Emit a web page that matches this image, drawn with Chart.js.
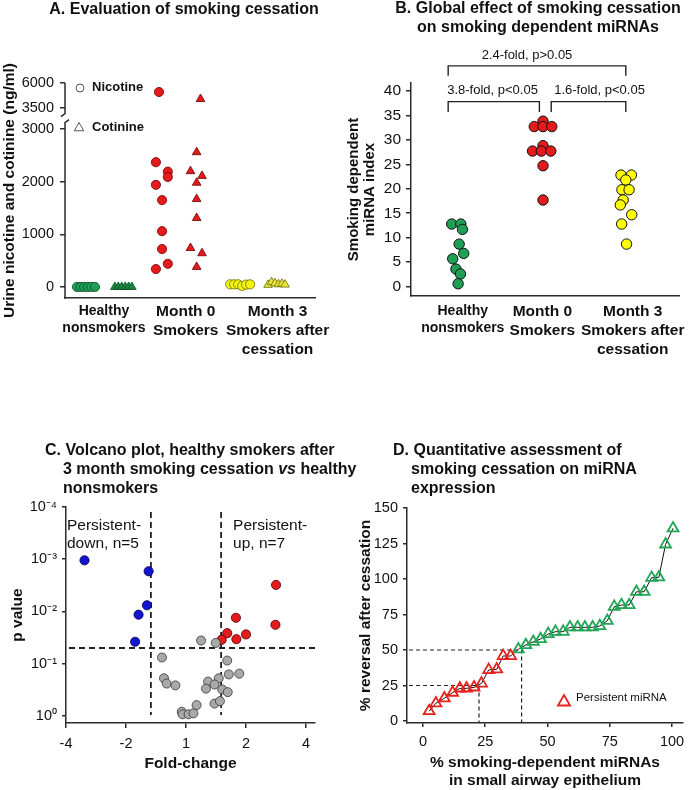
<!DOCTYPE html>
<html>
<head>
<meta charset="utf-8">
<title>Smoking cessation and miRNA</title>
<script src="https://cdn.jsdelivr.net/npm/chart.js@4.4.1/dist/chart.umd.min.js"></script>
<style>
  body { margin: 0; background: #fff; }
  #fig { position: relative; width: 692px; height: 790px; overflow: hidden; font-family: "Liberation Sans", Arial, sans-serif; color: #111; }
  #fig canvas { position: absolute; }
  .ttl { position: absolute; font-weight: bold; font-size: 16px; line-height: 19px; white-space: nowrap; }
  .ind { padding-left: 18px; }
</style>
</head>
<body>
<div id="fig">
  <canvas id="chartA" width="346" height="395" style="left:0;top:0"></canvas>
  <canvas id="chartB" width="346" height="395" style="left:346px;top:0"></canvas>
  <canvas id="chartC" width="346" height="395" style="left:0;top:395px"></canvas>
  <canvas id="chartD" width="346" height="395" style="left:346px;top:395px"></canvas>
  <div class="ttl" style="left:0;width:368px;top:-1px;text-align:center">A. Evaluation of smoking cessation</div>
  <div class="ttl" style="left:338px;width:400px;top:-2px;text-align:center">B. Global effect of smoking cessation<br>on smoking dependent miRNAs</div>
  <div class="ttl" style="left:45px;top:440px">C. Volcano plot, healthy smokers after<br><span class="ind">3 month smoking cessation <i>vs</i> healthy</span><br><span class="ind">nonsmokers</span></div>
  <div class="ttl" style="left:393px;top:440px">D. Quantitative assessment of<br><span class="ind">smoking cessation on miRNA</span><br><span class="ind">expression</span></div>
</div>
<script>
const FONT = '"Liberation Sans", Arial, sans-serif';
Chart.defaults.font.family = FONT;
Chart.defaults.color = '#111';
const AX = '#2b2b2b';

// groups shared by A and B
const groupLabels = [['Healthy', 'nonsmokers'], ['Month 0', 'Smokers'], ['Month 3', 'Smokers after', 'cessation']];

// A. urine nicotine / cotinine, ng/ml
const aTicks = [0, 1000, 2000, 3000, 3500, 6000];
const aNicotine = [
  [0, 0, 0, 0, 0, 0],
  [5100, 2370, 2190, 2090, 1940, 1650, 1060, 720, 440, 340],
  [50, 50, 50, 20, 45, 50]
];
const aCotinine = [
  [0, 0, 0, 0, 0, 0],
  [4400, 2560, 2200, 2110, 1980, 1670, 1310, 740, 640, 380],
  [40, 90, 70, 50, 60, 45]
];
// beeswarm spread around each group centre
const aNicJit = [
  [-0.357, -0.31, -0.264, -0.217, -0.17, -0.123],
  [-0.29, -0.33, -0.175, -0.175, -0.33, -0.25, -0.25, -0.25, -0.175, -0.33],
  [-0.364, -0.312, -0.26, -0.208, -0.156, -0.104]
];
const aCotJit = [
  [0.136, 0.18, 0.225, 0.27, 0.315, 0.357],
  [0.25, 0.2, 0.12, 0.27, 0.2, 0.2, 0.2, 0.12, 0.27, 0.2],
  [0.13, 0.175, 0.22, 0.265, 0.31, 0.35]
];

// B. smoking dependent miRNA index
const bTicks = [0, 5, 10, 15, 20, 25, 30, 35, 40];
const bIndex = [
  [12.8, 12.8, 11.7, 8.7, 6.8, 5.7, 3.6, 2.6, 0.6],
  [33.8, 32.7, 32.7, 32.7, 28.8, 27.7, 27.7, 27.7, 24.7, 17.7],
  [22.8, 22.8, 21.8, 19.8, 19.8, 17.7, 16.7, 14.7, 12.8, 8.7]
];
const bJit = [
  [-0.073, 0.035, 0.054, 0.015, 0.069, -0.061, -0.023, 0.031, 0.003],
  [0.008, -0.096, 0.008, 0.112, 0.008, -0.116, -0.012, 0.1, 0.008, 0.008],
  [-0.069, 0.054, -0.012, -0.058, 0.027, -0.043, -0.077, 0.058, -0.061, -0.003]
];
const bPairs = [[0, 1], [1, 2], [0, 2]];
const bPairText = ['3.8-fold, p<0.05', '1.6-fold, p<0.05', '2.4-fold, p>0.05'];

// C. volcano plot (signed fold-change, p value)
const cDownFC = [-3.23, -1.54, -1.57, -1.73, -1.80];
const cDownP = [0.00105, 0.0017, 0.0076, 0.0115, 0.038];
const cUpFC = [2.83, 1.78, 2.81, 1.61, 2.0, 1.51, 1.79];
const cUpP = [0.0031, 0.0132, 0.018, 0.026, 0.0275, 0.0347, 0.0339];
const cOtherFC = [1.19, 1.41, -1.32, 1.61, -1.29, -1.25, -1.13, 1.64, 1.85, 1.46, 1.29, 1.39, 1.26, 1.52, 1.62, 1.13, 1.39, 1.48, -1.05, -1.04, 1.03, 1.09];
const cOtherP = [0.036, 0.040, 0.076, 0.087, 0.19, 0.24, 0.26, 0.16, 0.155, 0.19, 0.22, 0.25, 0.30, 0.31, 0.35, 0.62, 0.58, 0.52, 0.83, 0.93, 0.93, 0.89];
const cTicksFC = [-4, -2, 1, 2, 4];
const cTicksExp = [-4, -3, -2, -1, 0];
const fcCut = 1.5, pCut = 0.05;

// D. % reversal vs % of smoking-dependent miRNAs
const dPersX = [2.5, 5.2, 8.6, 11.9, 14.8, 17.5, 20.5, 23.5, 26.4, 29.6, 32.2, 35.2];
const dPersY = [7, 12.5, 16, 20, 23, 23, 23.7, 26.5, 36, 36.4, 45.8, 45.8];
const dRevX = [38.3, 41.3, 44.3, 47.2, 50.3, 53.2, 56.3, 59, 62.1, 65, 68.1, 71, 74, 76.8, 79.7, 82.8, 85.7, 88.8, 91.8, 94.7, 97.4, 100.4];
const dRevY = [50.5, 53.5, 55.8, 57.7, 61.3, 62.9, 62.9, 66, 66, 66, 66, 66.9, 70.6, 80.5, 81.7, 81.7, 91, 91, 100.9, 101.2, 124.4, 135.7];
const dXTicks = [0, 25, 50, 75, 100];
const dYTicks = [0, 25, 50, 75, 100, 125, 150];
const dGuideX = [22.5, 39.6];
const dGuideY = [25, 50];

// broken axis in A: 0-3000 as is, 3500-6000 squeezed on top
const brk = v => v <= 3000 ? v : 3400 + (v - 3500) * 0.19;
const fcPos = f => Math.sign(f) * Math.log2(Math.abs(f));
const SUP = { '-': '\u207B', '0': '\u2070', '1': '\u00B9', '2': '\u00B2', '3': '\u00B3', '4': '\u2074' };
const sup = n => String(n).split('').map(c => SUP[c]).join('');

function tri(ctx, cx, cy, r) {
  ctx.beginPath();
  ctx.moveTo(cx, cy - r);
  ctx.lineTo(cx + r * 0.866, cy + r / 2);
  ctx.lineTo(cx - r * 0.866, cy + r / 2);
  ctx.closePath();
  ctx.stroke();
}

const base = {
  responsive: false, animation: false, events: [],
  plugins: { legend: { display: false }, tooltip: { enabled: false } }
};

// ---------- A ----------
const aFill = ['#1f9e55', '#e41a1c', '#f4f414'];
const aTriFill = ['#18883f', '#e41a1c', '#e8e83c'];
const aEdge = ['#0c4d25', '#6a0000', '#6b6b00'];
const dsA = [];
aNicotine.forEach((vals, g) => dsA.push({
  data: vals.map((v, i) => ({ x: g + 1 + aNicJit[g][i], y: brk(v) })),
  pointStyle: 'circle', pointRadius: 4.6, pointBackgroundColor: aFill[g], pointBorderColor: aEdge[g], pointBorderWidth: 0.8
}));
aCotinine.forEach((vals, g) => dsA.push({
  data: vals.map((v, i) => ({ x: g + 1 + aCotJit[g][i], y: brk(v) })),
  pointStyle: 'triangle', pointRadius: 5, pointBackgroundColor: aTriFill[g], pointBorderColor: aEdge[g], pointBorderWidth: 0.8
}));

const aDecor = {
  id: 'aDecor',
  afterDraw(chart) {
    const { ctx, chartArea: ca, scales: { y } } = chart;
    const x0 = ca.left;
    const mid = (y.getPixelForValue(brk(3000)) + y.getPixelForValue(brk(3500))) / 2;
    ctx.save();
    ctx.strokeStyle = AX; ctx.lineWidth = 1.5;
    ctx.beginPath();
    ctx.moveTo(x0, ca.top); ctx.lineTo(x0, mid - 5); ctx.lineTo(x0 - 4, mid - 2);
    ctx.moveTo(x0 + 4, mid + 1); ctx.lineTo(x0, mid + 4); ctx.lineTo(x0, ca.bottom + 0.75);
    ctx.stroke();
    ctx.lineWidth = 1; ctx.strokeStyle = '#555';
    ctx.beginPath(); ctx.arc(x0 + 15, ca.top + 5, 4, 0, Math.PI * 2); ctx.stroke();
    tri(ctx, x0 + 14, ca.top + 45, 5.5);
    ctx.fillStyle = '#111'; ctx.font = 'bold 13px ' + FONT; ctx.textBaseline = 'middle';
    ctx.fillText('Nicotine', x0 + 27, ca.top + 4);
    ctx.fillText('Cotinine', x0 + 27, ca.top + 44);
    ctx.restore();
  }
};

new Chart(document.getElementById('chartA'), {
  type: 'scatter',
  data: { datasets: dsA },
  options: {
    ...base,
    layout: { padding: { top: 83, right: 31, bottom: 0, left: 0 } },
    scales: {
      x: {
        min: 0.487, max: 3.74,
        afterBuildTicks: s => { s.ticks = [0.994, 2.058, 3.253].map(v => ({ value: v })); },
        afterFit: s => { s.height = 97; },
        grid: { display: false, drawTicks: false },
        border: { display: true, color: AX, width: 1.5 },
        ticks: {
          autoSkip: false, maxRotation: 0, padding: 4.5,
          callback: (v, i) => groupLabels[i],
          font: c => ({ size: c.index === 0 ? 14 : 15.5, weight: 'bold', lineHeight: c.index === 0 ? 1.2 : 1.22 })
        }
      },
      y: {
        min: -210, max: 3875,
        afterBuildTicks: s => { s.ticks = aTicks.map(v => ({ value: brk(v) })); },
        afterFit: s => { s.width = 65; },
        grid: { drawOnChartArea: false, tickLength: 5, color: AX, lineWidth: 1.5 },
        border: { display: false },
        ticks: { padding: 6, font: { size: 14.5 }, callback: (v, i) => String(aTicks[i]) },
        title: { display: true, text: 'Urine nicotine and cotinine (ng/ml)', font: { size: 15.5, weight: 'bold' }, padding: { top: 0, bottom: 0 } }
      }
    }
  },
  plugins: [aDecor]
});

// ---------- B ----------
const bFill = ['#1f9e55', '#e41a1c', '#ffff00'];
const dsB = bIndex.map((vals, g) => ({
  data: vals.map((v, i) => ({ x: g + 1 + bJit[g][i], y: v })),
  pointStyle: 'circle', pointRadius: 5.2, pointBackgroundColor: bFill[g], pointBorderColor: '#111', pointBorderWidth: 1
}));

const bDecor = {
  id: 'bDecor',
  afterDraw(chart) {
    const { ctx, scales: { x, y } } = chart;
    ctx.save();
    ctx.strokeStyle = '#222'; ctx.lineWidth = 1.4; ctx.fillStyle = '#111';
    ctx.font = '13px ' + FONT; ctx.textBaseline = 'middle';
    bPairs.forEach((p, k) => {
      const top = p[1] - p[0] > 1;
      const x1 = x.getPixelForValue(p[0] + 1 + (p[0] === 0 ? -0.115 : 0.105));
      const x2 = x.getPixelForValue(p[1] + 1 - (p[1] === 1 ? 0.035 : 0.012));
      const yBar = y.getPixelForValue(top ? 45.1 : 37.8);
      const yLeg = y.getPixelForValue(top ? 43.1 : 35.7);
      const yTxt = y.getPixelForValue(top ? 47.2 : 40);
      ctx.beginPath();
      ctx.moveTo(x1, yLeg); ctx.lineTo(x1, yBar); ctx.lineTo(x2, yBar); ctx.lineTo(x2, yLeg);
      ctx.stroke();
      if (top) { ctx.textAlign = 'center'; ctx.fillText(bPairText[k], (x1 + x2) / 2 - 10, yTxt); }
      else { ctx.textAlign = 'left'; ctx.fillText(bPairText[k], x1 + (p[0] === 0 ? -1 : 3), yTxt); }
    });
    ctx.restore();
  }
};

new Chart(document.getElementById('chartB'), {
  type: 'scatter',
  data: { datasets: dsB },
  options: {
    ...base,
    layout: { padding: { top: 83, right: 6, bottom: 0, left: 0 } },
    scales: {
      x: {
        min: 0.445, max: 3.624,
        afterBuildTicks: s => { s.ticks = [1.058, 2, 3.07].map(v => ({ value: v })); },
        afterFit: s => { s.height = 99; },
        grid: { display: false, drawTicks: false },
        border: { display: true, color: AX, width: 1.5 },
        ticks: {
          autoSkip: false, maxRotation: 0, padding: 6.5,
          callback: (v, i) => groupLabels[i],
          font: c => ({ size: c.index === 0 ? 14 : 15.5, weight: 'bold', lineHeight: c.index === 0 ? 1.22 : 1.22 })
        }
      },
      y: {
        min: -1.9, max: 41.6,
        afterBuildTicks: s => { s.ticks = bTicks.map(v => ({ value: v })); },
        afterFit: s => { s.width = 65; },
        grid: { drawOnChartArea: false, tickLength: 5, color: AX, lineWidth: 1.5 },
        border: { display: true, color: AX, width: 1.5 },
        ticks: { padding: 5, font: { size: 15.5 } },
        title: { display: true, text: ['Smoking dependent', 'miRNA index'], font: { size: 15, weight: 'bold', lineHeight: 1.07 }, padding: { top: 0, bottom: 0 } }
      }
    }
  },
  plugins: [bDecor]
});

// ---------- C ----------
const pts = (fc, p) => fc.map((f, i) => ({ x: fcPos(f), y: p[i] }));
const dsC = [
  { data: pts(cOtherFC, cOtherP), pointRadius: 4.5, pointBackgroundColor: '#a9a9a9', pointBorderColor: '#333', pointBorderWidth: 0.8 },
  { data: pts(cDownFC, cDownP), pointRadius: 4.6, pointBackgroundColor: '#1414d2', pointBorderColor: '#000050', pointBorderWidth: 0.8 },
  { data: pts(cUpFC, cUpP), pointRadius: 4.6, pointBackgroundColor: '#e41a1c', pointBorderColor: '#500000', pointBorderWidth: 0.8 }
];

const cDecor = {
  id: 'cDecor',
  beforeDatasetsDraw(chart) {
    const { ctx, chartArea: ca, scales: { x, y } } = chart;
    ctx.save();
    ctx.strokeStyle = '#222'; ctx.lineWidth = 1.8; ctx.setLineDash([6, 4]);
    ctx.beginPath();
    [-fcCut, fcCut].forEach(f => {
      const px = x.getPixelForValue(fcPos(f));
      ctx.moveTo(px, ca.top + 5); ctx.lineTo(px, ca.bottom - 8);
    });
    const py = y.getPixelForValue(pCut);
    ctx.moveTo(ca.left + 3, py); ctx.lineTo(ca.right, py);
    ctx.stroke();
    ctx.restore();
  },
  afterDraw(chart) {
    const { ctx, chartArea: ca, scales: { x } } = chart;
    ctx.save();
    ctx.fillStyle = '#111'; ctx.font = '15.5px ' + FONT; ctx.textBaseline = 'middle';
    ctx.fillText('Persistent-', ca.left + 1, ca.top + 19);
    ctx.fillText('down, n=5', ca.left + 1, ca.top + 37);
    const xr = x.getPixelForValue(fcPos(fcCut)) + 12;
    ctx.fillText('Persistent-', xr, ca.top + 19);
    ctx.fillText('up, n=7', xr, ca.top + 37);
    ctx.restore();
  }
};

new Chart(document.getElementById('chartC'), {
  type: 'scatter',
  data: { datasets: dsC },
  options: {
    ...base,
    layout: { padding: { top: 112, right: 31, bottom: 0, left: 0 } },
    scales: {
      x: {
        min: -2, max: 2.15,
        afterBuildTicks: s => { s.ticks = cTicksFC.map(f => ({ value: fcPos(f) })); },
        afterFit: s => { s.height = 67; },
        grid: { drawOnChartArea: false, tickLength: 5, color: AX, lineWidth: 1.5 },
        border: { display: true, color: AX, width: 1.5 },
        ticks: { padding: 7, font: { size: 14.5 }, callback: (v, i) => String(cTicksFC[i]) },
        title: { display: true, text: 'Fold-change', font: { size: 15.5, weight: 'bold' }, padding: { top: 0, bottom: 16.5 } }
      },
      y: {
        type: 'logarithmic', reverse: true, min: 1e-4, max: 1.364,
        afterBuildTicks: s => { s.ticks = cTicksExp.map(e => ({ value: Math.pow(10, e) })); },
        afterFit: s => { s.width = 66; },
        grid: { drawOnChartArea: false, tickLength: 4, color: AX, lineWidth: 1.5 },
        border: { display: true, color: AX, width: 1.5 },
        ticks: { padding: 5, font: { size: 14.5 }, callback: (v, i) => '10' + sup(cTicksExp[i]) },
        title: { display: true, text: 'p value', font: { size: 15.5, weight: 'bold' }, padding: { top: 8.7, bottom: 0 } }
      }
    }
  },
  plugins: [cDecor]
});

// ---------- D ----------
const xy = (xs, ys) => xs.map((x, i) => ({ x, y: ys[i] }));
const dsD = [
  { data: xy(dPersX, dPersY), pointStyle: 'triangle', pointRadius: 6.3, pointBorderWidth: 1.8, pointBorderColor: '#e8201e', pointBackgroundColor: 'rgba(255,255,255,0)' },
  { data: xy(dRevX, dRevY), pointStyle: 'triangle', pointRadius: 6.3, pointBorderWidth: 1.8, pointBorderColor: '#22a656', pointBackgroundColor: 'rgba(255,255,255,0)' },
  { data: xy(dPersX.concat(dRevX), dPersY.concat(dRevY)), showLine: true, pointRadius: 0, borderColor: '#111', borderWidth: 1 }
];

const dDecor = {
  id: 'dDecor',
  beforeDatasetsDraw(chart) {
    const { ctx, chartArea: ca, scales: { x, y } } = chart;
    ctx.save();
    ctx.strokeStyle = '#222'; ctx.lineWidth = 1.2; ctx.setLineDash([4, 3]);
    ctx.beginPath();
    dGuideX.forEach((gx, i) => {
      const px = x.getPixelForValue(gx), py = y.getPixelForValue(dGuideY[i]);
      ctx.moveTo(ca.left + 2, py); ctx.lineTo(px, py); ctx.lineTo(px, ca.bottom);
    });
    ctx.stroke();
    ctx.restore();
  },
  afterDraw(chart) {
    const { ctx, chartArea: ca } = chart;
    ctx.save();
    ctx.strokeStyle = '#e8201e'; ctx.lineWidth = 1.8;
    tri(ctx, ca.left + 157, ca.top + 194, 7);
    ctx.fillStyle = '#111'; ctx.font = '11.5px ' + FONT; ctx.textBaseline = 'middle';
    ctx.fillText('Persistent miRNA', ca.left + 169, ca.top + 190);
    ctx.restore();
  }
};

new Chart(document.getElementById('chartD'), {
  type: 'scatter',
  data: { datasets: dsD },
  options: {
    ...base,
    layout: { padding: { top: 113, right: 9, bottom: 0, left: 0 } },
    scales: {
      x: {
        min: -6.4, max: 104.4,
        afterBuildTicks: s => { s.ticks = dXTicks.map(v => ({ value: v })); },
        afterFit: s => { s.height = 67; },
        grid: { drawOnChartArea: false, tickLength: 4, color: AX, lineWidth: 1.5 },
        border: { display: true, color: AX, width: 1.5 },
        ticks: { padding: 6, font: { size: 14.5 } },
        title: { display: true, text: ['% smoking-dependent miRNAs', 'in small airway epithelium'], font: { size: 15.5, weight: 'bold', lineHeight: 1.16 }, padding: { top: 0, bottom: 0 } }
      },
      y: {
        min: -1.4, max: 150,
        afterBuildTicks: s => { s.ticks = dYTicks.map(v => ({ value: v })); },
        afterFit: s => { s.width = 61; },
        grid: { drawOnChartArea: false, tickLength: 4, color: AX, lineWidth: 1.5 },
        border: { display: true, color: AX, width: 1.5 },
        ticks: { padding: 5, font: { size: 14.5 } },
        title: { display: true, text: '% reversal after cessation', font: { size: 15.5, weight: 'bold' }, padding: { top: 10.7, bottom: 0 } }
      }
    }
  },
  plugins: [dDecor]
});
</script>
</body>
</html>
